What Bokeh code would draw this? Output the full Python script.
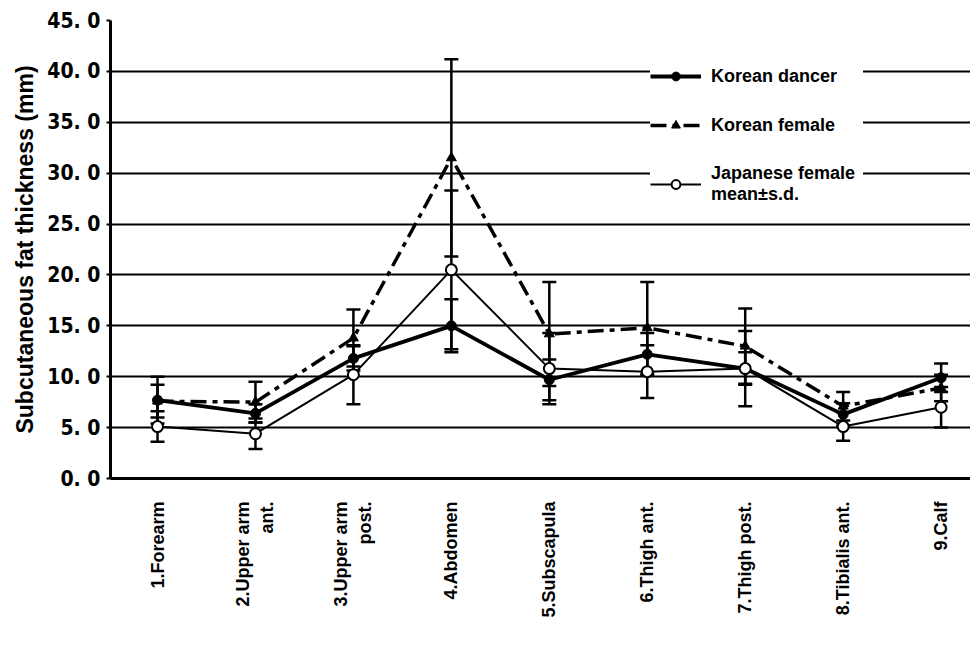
import math
from bokeh.plotting import figure
from bokeh.models import Range1d, FixedTicker, Whisker, TeeHead, ColumnDataSource, Legend, LegendItem
from bokeh.embed import file_html
from bokeh.resources import INLINE

categories = ["1.Forearm", "2.Upper arm\nant.", "3.Upper arm\npost.", "4.Abdomen", "5.Subscapula",
              "6.Thigh ant.", "7.Thigh post.", "8.Tibialis ant.", "9.Calf"]
dancer = [7.7, 6.4, 11.8, 15.0, 9.7, 12.2, 10.8, 6.3, 9.9]
dancer_sd = [2.3, 0.9, 1.2, 2.6, 2.0, 2.1, 1.6, 1.1, 1.4]
korean_female = [7.6, 7.5, 13.8, 31.5, 14.2, 14.8, 13.0, 7.1, 8.9]
korean_female_sd = [1.6, 2.0, 2.8, 9.7, 5.1, 4.5, 3.7, 1.4, 1.3]
japanese_female = [5.1, 4.4, 10.2, 20.5, 10.8, 10.5, 10.8, 5.1, 7.0]
japanese_female_sd = [1.5, 1.5, 2.9, 7.8, 3.5, 2.6, 3.7, 1.4, 2.0]
y_ticks = [0, 5, 10, 15, 20, 25, 30, 35, 40, 45]
y_tick_labels = ["0. 0", "5. 0", "10. 0", "15. 0", "20. 0", "25. 0", "30. 0", "35. 0", "40. 0", "45. 0"]

x_pos = list(range(1, len(categories) + 1))

p = figure(width=970, height=655, output_backend="svg", toolbar_location=None,
           x_range=Range1d(0.52, 9.30), y_range=Range1d(0, 45),
           min_border_left=110, min_border_top=20, min_border_bottom=177, min_border_right=0)
p.outline_line_color = None
p.background_fill_color = "white"
p.border_fill_color = "white"

p.xgrid.visible = False
p.ygrid.grid_line_color = "black"
p.ygrid.grid_line_width = 2
p.ygrid.ticker = FixedTicker(ticks=y_ticks)

p.yaxis.ticker = FixedTicker(ticks=y_ticks)
p.yaxis.major_label_overrides = {t: l for t, l in zip(y_ticks, y_tick_labels)}
p.yaxis.major_label_text_font = "DejaVu Sans Condensed"
p.yaxis.major_label_text_font_style = "bold"
p.yaxis.major_label_text_font_size = "21px"
p.yaxis.major_label_text_color = "black"
p.yaxis.major_label_standoff = 6
p.yaxis.axis_line_width = 3
p.yaxis.major_tick_line_width = 2
p.yaxis.major_tick_out = 4
p.yaxis.major_tick_in = 0
p.yaxis.minor_tick_line_color = None
p.yaxis.axis_label = "Subcutaneous fat thickness (mm)"
p.yaxis.axis_label_text_font = "Liberation Sans"
p.yaxis.axis_label_text_font_style = "bold"
p.yaxis.axis_label_text_font_size = "23px"
p.yaxis.axis_label_text_color = "black"
p.yaxis.axis_label_standoff = 6

p.xaxis.ticker = FixedTicker(ticks=x_pos)
p.xaxis.major_label_overrides = {x: c for x, c in zip(x_pos, categories)}
p.xaxis.major_label_orientation = math.pi / 2
p.xaxis.major_label_text_font = "Liberation Sans"
p.xaxis.major_label_text_font_style = "bold"
p.xaxis.major_label_text_font_size = "18px"
p.xaxis.major_label_text_color = "black"
p.xaxis.major_label_standoff = 17
p.xaxis.axis_line_width = 3
p.xaxis.major_tick_line_color = None
p.xaxis.minor_tick_line_color = None

src = ColumnDataSource(dict(
    x=x_pos,
    d=dancer, d_lo=[m - s for m, s in zip(dancer, dancer_sd)], d_hi=[m + s for m, s in zip(dancer, dancer_sd)],
    k=korean_female, k_lo=[m - s for m, s in zip(korean_female, korean_female_sd)],
    k_hi=[m + s for m, s in zip(korean_female, korean_female_sd)],
    j=japanese_female, j_lo=[m - s for m, s in zip(japanese_female, japanese_female_sd)],
    j_hi=[m + s for m, s in zip(japanese_female, japanese_female_sd)],
))

for lo, hi in [("k_lo", "k_hi"), ("j_lo", "j_hi"), ("d_lo", "d_hi")]:
    w = Whisker(base="x", lower=lo, upper=hi, source=src, line_color="black", line_width=2.5,
                upper_head=TeeHead(size=14, line_width=2.5, line_color="black"),
                lower_head=TeeHead(size=14, line_width=2.5, line_color="black"))
    p.add_layout(w)

kl = p.line("x", "k", source=src, line_color="black", line_width=3.5, line_dash="16 6 5 6")
jl = p.line("x", "j", source=src, line_color="black", line_width=2)
dl = p.line("x", "d", source=src, line_color="black", line_width=3.8)
ks = p.scatter("x", "k", source=src, marker="triangle", size=10, fill_color="black", line_color="black")
ds = p.scatter("x", "d", source=src, marker="circle", size=10, fill_color="black", line_color="black")
js = p.scatter("x", "j", source=src, marker="circle", size=11, fill_color="white", line_color="black", line_width=2)

legend = Legend(items=[
    LegendItem(label="Korean dancer", renderers=[dl, ds]),
    LegendItem(label="Korean female", renderers=[kl, ks]),
    LegendItem(label="Japanese female\nmean\u00b1s.d.", renderers=[jl, js]),
], location=(540, 273))
legend.background_fill_color = "white"
legend.background_fill_alpha = 1.0
legend.border_line_color = None
legend.label_text_font = "Liberation Sans"
legend.label_text_font_style = "bold"
legend.label_text_font_size = "18px"
legend.label_text_color = "black"
legend.glyph_width = 51
legend.glyph_height = 22
legend.label_height = 22
legend.label_width = 152
legend.label_standoff = 10
legend.spacing = 27
legend.padding = 10
p.add_layout(legend, "center")

open("out.html", "w").write(file_html(p, INLINE))
